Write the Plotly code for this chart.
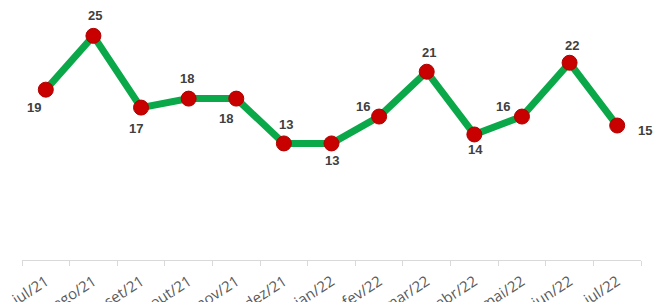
import plotly.graph_objects as go

months = ["jul/21", "ago/21", "set/21", "out/21", "nov/21", "dez/21", "jan/22",
          "fev/22", "mar/22", "abr/22", "mai/22", "jun/22", "jul/22"]
values = [19, 25, 17, 18, 18, 13, 13, 16, 21, 14, 16, 22, 15]

# label offsets (pixels) relative to each point
label_dx = [-12, 2, -5, -2, -10, 2, 0, -16, 2, 1, -19, 2, 28]
label_dy = [-18, 20, -21, 20, -20, 19, -17, 10, 19, -15, 10, 17, -5]

fig = go.Figure()
fig.add_trace(go.Scatter(
    x=months, y=values, mode="lines+markers",
    line=dict(color="#0BA84A", width=7),
    marker=dict(color="#C80000", size=15, line=dict(color="#B00000", width=1)),
    hoverinfo="skip", showlegend=False,
))

for m, v, dx, dy in zip(months, values, label_dx, label_dy):
    fig.add_annotation(x=m, y=v, xref="x", yref="y", text=f"<b>{v}</b>",
                       showarrow=False, xshift=dx, yshift=dy,
                       font=dict(family="Liberation Sans, Arial", size=13, color="#404040"))

fig.update_layout(
    width=654, height=302,
    margin=dict(l=22, r=13, t=0, b=42, autoexpand=False),
    paper_bgcolor="white", plot_bgcolor="white",
    xaxis=dict(type="category", categoryorder="array", categoryarray=months,
               range=[-0.5, 12.5], tickson="boundaries", ticks="outside", ticklen=5,
               tickcolor="#D9D9D9", showline=True, linecolor="#D9D9D9", linewidth=1,
               showgrid=False, zeroline=False, tickangle=-33, automargin=False,
               ticklabelstandoff=6,
               tickfont=dict(family="Open Sans", size=15, color="#595959")),
    yaxis=dict(range=[0, 29], visible=False, showgrid=False, zeroline=False,
               automargin=False),
)

# remove the browser's default page margin so the figure fills the window exactly
fig.write_html("out.html", config={"displayModeBar": False},
               post_script="document.body.style.margin='0';document.body.style.overflow='hidden';")
